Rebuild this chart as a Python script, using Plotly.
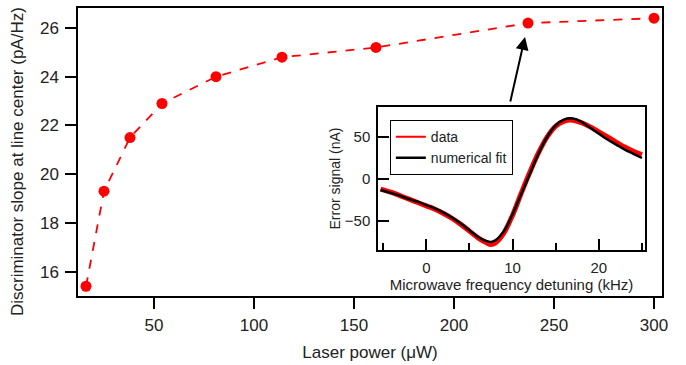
import plotly.graph_objects as go

# Main chart data
power_uW = [16, 25, 38, 54, 81, 114, 161, 237, 300]
slope_pA_Hz = [15.4, 19.3, 21.5, 22.9, 24.0, 24.8, 25.2, 26.2, 26.4]

# Inset data
detuning_kHz = [-5.3, -4, -3, -2, -1, 0, 1, 2, 3, 4, 5, 6, 7, 7.5, 8, 9, 10, 11, 12, 13,
                14, 15, 16, 17, 18, 19, 20, 21, 22, 23, 24, 25]
error_data_nA = [-12, -16, -20, -24, -28, -32, -36, -41, -47, -54, -62, -70, -76, -78, -76, -64,
                 -43, -17, 8, 31, 50, 63, 69, 70, 67, 62, 56, 50, 44, 38, 33, 29]
error_fit_nA = [-13, -17, -20, -24, -27, -31, -35, -40, -46, -53, -61, -69, -74, -75, -73, -62,
                -42, -18, 6, 30, 50, 64, 71, 72, 68, 61, 54, 47, 41, 35, 30, 25]

FONT = "Liberation Sans, Arial, sans-serif"
TXT = "#222222"

fig = go.Figure()

fig.add_trace(go.Scatter(
    x=power_uW, y=slope_pA_Hz, mode="lines+markers",
    line=dict(color="#ff0000", width=1.8, dash="dash"),
    marker=dict(color="#ff0000", size=11),
    showlegend=False, xaxis="x", yaxis="y"))

fig.add_trace(go.Scatter(
    x=detuning_kHz, y=error_data_nA, mode="lines", name="data",
    line=dict(color="#ff0000", width=5, shape="spline"),
    showlegend=False, xaxis="x2", yaxis="y2"))
fig.add_trace(go.Scatter(
    x=detuning_kHz, y=error_fit_nA, mode="lines", name="numerical fit",
    line=dict(color="#000000", width=2.5, shape="spline"),
    showlegend=False, xaxis="x2", yaxis="y2"))
# legend-only entries (thin sample lines as in the reference legend)
fig.add_trace(go.Scatter(x=[None], y=[None], mode="lines", name="data",
                         line=dict(color="#ff0000", width=2), xaxis="x2", yaxis="y2"))
fig.add_trace(go.Scatter(x=[None], y=[None], mode="lines", name="numerical fit",
                         line=dict(color="#000000", width=2.5), xaxis="x2", yaxis="y2"))

axis_common = dict(showline=True, linecolor="black", linewidth=1.5, mirror=True,
                   showgrid=False, zeroline=False, ticks="outside", ticklen=11,
                   tickcolor="black", tickwidth=1.5, automargin=False,
                   tickfont=dict(family=FONT, size=17, color=TXT))

fig.update_layout(
    width=686, height=365,
    margin=dict(l=78, r=24, t=8, b=69),
    paper_bgcolor="white", plot_bgcolor="white",
    font=dict(family=FONT, color=TXT),
    xaxis=dict(**axis_common, range=[12, 304], tickvals=[50, 100, 150, 200, 250, 300],
               ticklabelstandoff=2,
               title=dict(text="Laser power (\u03bcW)", font=dict(family=FONT, size=17, color=TXT),
                          standoff=12)),
    yaxis=dict(**axis_common, range=[15.0, 26.82], tickvals=[16, 18, 20, 22, 24, 26],
               ticklabelstandoff=3),
    xaxis2=dict(domain=[0.5137, 0.9709], anchor="y2", range=[-5.6, 25.35],
                showline=True, linecolor="black", linewidth=1.5, mirror=True,
                showgrid=False, zeroline=False, ticks="inside", ticklen=11,
                tickcolor="black", tickwidth=1.5, tickvals=[0, 10, 20], automargin=False,
                ticklabelstandoff=3,
                minor=dict(tickvals=[-5, 5, 15, 25], ticks="inside", ticklen=7,
                           tickcolor="black", tickwidth=1.5),
                tickfont=dict(family=FONT, size=15, color=TXT),
                title=dict(text="Microwave frequency detuning (kHz)",
                           font=dict(family=FONT, size=15, color=TXT), standoff=0)),
    yaxis2=dict(domain=[0.1597, 0.65625], anchor="x2", range=[-84.5, 85.7],
                showline=True, linecolor="black", linewidth=1.5, mirror=True,
                showgrid=False, zeroline=False, ticks="inside", ticklen=11,
                tickcolor="black", tickwidth=1.5, tickvals=[-50, 0, 50], automargin=False,
                ticklabelstandoff=3,
                tickfont=dict(family=FONT, size=15, color=TXT),
                title=dict(text="Error signal (nA)",
                           font=dict(family=FONT, size=14, color=TXT), standoff=1)),
    legend=dict(x=0.534, y=0.611, xanchor="left", yanchor="top",
                bgcolor="white", bordercolor="black", borderwidth=1,
                font=dict(family=FONT, size=14, color=TXT),
                tracegroupgap=0, itemwidth=30),
    annotations=[
        dict(x=235.5, y=25.63, xref="x", yref="y", ax=-15, ay=66,
             axref="pixel", ayref="pixel", showarrow=True, arrowhead=2,
             arrowsize=1.3, arrowwidth=2, arrowcolor="black", text=""),
        dict(text="Discriminator slope at line center (pA/Hz)", xref="paper", yref="paper",
             x=0, y=0.465, xshift=-61, textangle=-90, showarrow=False,
             xanchor="center", yanchor="middle",
             font=dict(family=FONT, size=17, color=TXT)),
    ],
)

fig.write_html("out.html", config={"displayModeBar": False},
               post_script="document.body.style.margin='0px';")
